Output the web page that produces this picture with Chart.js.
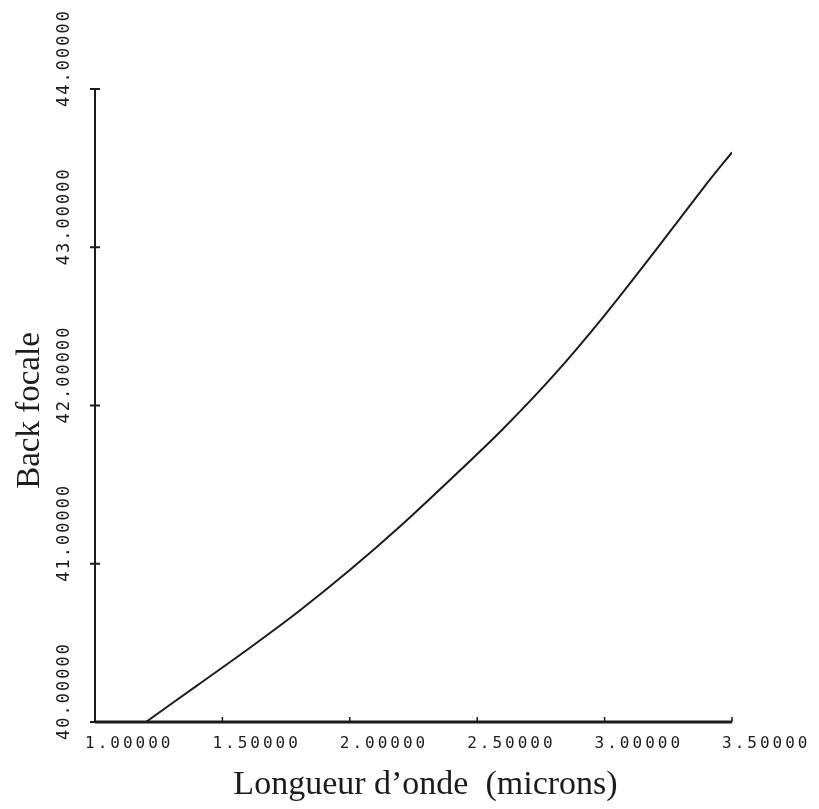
<!DOCTYPE html>
<html>
<head>
<meta charset="utf-8">
<script src="https://cdn.jsdelivr.net/npm/chart.js@4.4.1/dist/chart.umd.min.js"></script>
<style>
  html, body { margin: 0; padding: 0; background: #fff; }
  #wrap { width: 819px; height: 809px; }
</style>
</head>
<body>
<div id="wrap"><canvas id="chart" width="819" height="809"></canvas></div>
<script>
// DATA
// =============================================================================

// wavelength (microns) and back focal distance
const wavelengths = [1.20, 1.40, 1.60, 1.80, 2.00, 2.20, 2.40, 2.60, 2.80, 3.00, 3.20, 3.40, 3.50];
const backFocal   = [40.00, 40.23, 40.46, 40.70, 40.96, 41.24, 41.54, 41.85, 42.19, 42.57, 42.98, 43.40, 43.60];

const xTickValues = [1.0, 1.5, 2.0, 2.5, 3.0, 3.5];
const xTickLabels = ['1.00000', '1.50000', '2.00000', '2.50000', '3.00000', '3.50000'];
const yTickValues = [40, 41, 42, 43, 44];
const yTickLabels = ['40.00000', '41.00000', '42.00000', '43.00000', '44.00000'];

const xTitle = 'Longueur d\u2019onde  (microns)';
const yTitle = 'Back focale';

// =============================================================================

const INK = '#1c1c1c';

/**
 * Draws the plotter-style axes, tick marks, tick labels and titles
 * using the chart's own scales for placement.
 */
const plotterAxes = {
  id: 'plotterAxes',
  afterDraw(chart) {
    const ctx = chart.ctx;
    const xs = chart.scales.x;
    const ys = chart.scales.y;
    const left = xs.getPixelForValue(xTickValues[0]);
    const right = xs.getPixelForValue(xTickValues[xTickValues.length - 1]);
    const bottom = ys.getPixelForValue(yTickValues[0]);
    const top = ys.getPixelForValue(yTickValues[yTickValues.length - 1]);

    ctx.save();
    ctx.strokeStyle = INK;
    ctx.fillStyle = INK;

    // left axis
    ctx.lineWidth = 2;
    ctx.beginPath();
    ctx.moveTo(left, top);
    ctx.lineTo(left, bottom);
    ctx.stroke();

    // bottom axis, a bit heavier
    ctx.lineWidth = 3;
    ctx.beginPath();
    ctx.moveTo(left, bottom);
    ctx.lineTo(right, bottom);
    ctx.stroke();

    // y ticks cross the axis
    ctx.lineWidth = 2;
    yTickValues.forEach(v => {
      const py = ys.getPixelForValue(v);
      ctx.beginPath();
      ctx.moveTo(left - 5, py);
      ctx.lineTo(left + 5, py);
      ctx.stroke();
    });

    // x ticks point up
    ctx.lineWidth = 1.5;
    xTickValues.slice(1).forEach(v => {
      const px = xs.getPixelForValue(v);
      ctx.beginPath();
      ctx.moveTo(px, bottom - 5);
      ctx.lineTo(px, bottom);
      ctx.stroke();
    });

    // x tick labels
    ctx.font = '16px "DejaVu Sans Mono"';
    ctx.letterSpacing = '3px';
    ctx.textAlign = 'left';
    ctx.textBaseline = 'alphabetic';
    xTickValues.forEach((v, i) => {
      const px = xs.getPixelForValue(v);
      ctx.fillText(xTickLabels[i], px - 10, bottom + 26);
    });

    // y tick labels, rotated
    ctx.font = '17px "DejaVu Sans Mono"';
    ctx.letterSpacing = '2px';
    ctx.textAlign = 'center';
    ctx.textBaseline = 'middle';
    yTickValues.forEach((v, i) => {
      const py = ys.getPixelForValue(v);
      ctx.save();
      ctx.translate(left - 30, py - 31);
      ctx.rotate(-Math.PI / 2);
      ctx.fillText(yTickLabels[i], 0, 0);
      ctx.restore();
    });

    // titles
    ctx.letterSpacing = '0px';
    ctx.font = '34px "Liberation Serif"';
    ctx.textAlign = 'center';
    ctx.textBaseline = 'alphabetic';
    ctx.fillText(xTitle, (left + right) / 2 + 12, bottom + 72);

    ctx.font = '33px "Liberation Serif"';
    ctx.save();
    ctx.translate(39, (top + bottom) / 2 + 5);
    ctx.rotate(-Math.PI / 2);
    ctx.fillText(yTitle, 0, 0);
    ctx.restore();

    ctx.restore();
  }
};

const points = wavelengths.map((x, i) => ({ x: x, y: backFocal[i] }));

new Chart(document.getElementById('chart').getContext('2d'), {
  type: 'line',
  data: {
    datasets: [{
      data: points,
      borderColor: INK,
      borderWidth: 2,
      pointRadius: 0,
      fill: false,
      tension: 0.3
    }]
  },
  options: {
    responsive: false,
    animation: false,
    layout: { padding: { left: 87, right: 87, top: 89, bottom: 79 } },
    plugins: {
      legend: { display: false },
      tooltip: { enabled: false }
    },
    scales: {
      x: {
        type: 'linear',
        min: 1.0,
        max: 3.5,
        grid: { display: false },
        border: { display: false },
        ticks: { display: false }
      },
      y: {
        type: 'linear',
        min: 40,
        max: 44,
        grid: { display: false },
        border: { display: false },
        ticks: { display: false }
      }
    }
  },
  plugins: [plotterAxes]
});
</script>
</body>
</html>
